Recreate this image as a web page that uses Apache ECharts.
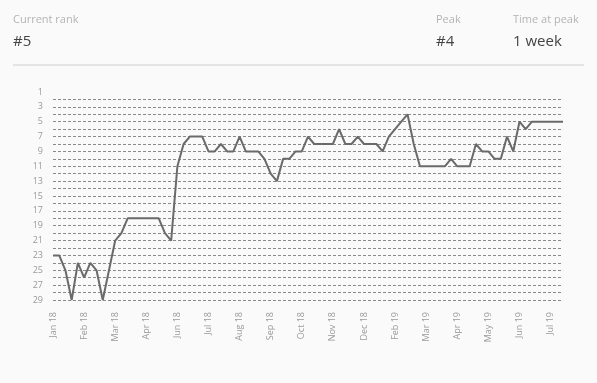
<!DOCTYPE html>
<html>
<head>
<meta charset="utf-8">
<script src="https://cdn.jsdelivr.net/npm/echarts@6/dist/echarts.min.js"></script>
<style>
html,body{margin:0;padding:0;background:#fafafa;}
#chart{width:597px;height:383px;}
</style>
</head>
<body>
<div id="chart"></div>
<script>
var weeks = [
'2018-01-13','2018-01-20','2018-01-27','2018-02-03','2018-02-10','2018-02-17','2018-02-24',
'2018-03-03','2018-03-10','2018-03-17','2018-03-24','2018-03-31','2018-04-07','2018-04-14',
'2018-04-21','2018-04-28','2018-05-05','2018-05-12','2018-05-19','2018-05-26','2018-06-02',
'2018-06-09','2018-06-16','2018-06-23','2018-06-30','2018-07-07','2018-07-14','2018-07-21',
'2018-07-28','2018-08-04','2018-08-11','2018-08-18','2018-08-25','2018-09-01','2018-09-08',
'2018-09-15','2018-09-22','2018-09-29','2018-10-06','2018-10-13','2018-10-20','2018-10-27',
'2018-11-03','2018-11-10','2018-11-17','2018-11-24','2018-12-01','2018-12-08','2018-12-15',
'2018-12-22','2018-12-29','2019-01-05','2019-01-12','2019-01-19','2019-01-26','2019-02-02',
'2019-02-09','2019-02-16','2019-02-23','2019-03-02','2019-03-09','2019-03-16','2019-03-23',
'2019-03-30','2019-04-06','2019-04-13','2019-04-20','2019-04-27','2019-05-04','2019-05-11',
'2019-05-18','2019-05-25','2019-06-01','2019-06-08','2019-06-15','2019-06-22','2019-06-29',
'2019-07-06','2019-07-13','2019-07-20','2019-07-27','2019-08-03','2019-08-10'
];
var ranks = [
23,23,25,29,24,26,24,25,29,25,21,20,18,18,18,18,18,18,20,21,
11,8,7,7,7,9,9,8,9,9,7,9,9,9,10,12,13,10,10,9,
9,7,8,8,8,8,6,8,8,7,8,8,8,9,7,6,5,4,8,11,
11,11,11,11,10,11,11,11,8,9,9,10,10,7,9,5,6,5,5,5,
5,5,5
];
var monthNames = ['Jan','Feb','Mar','Apr','May','Jun','Jul','Aug','Sep','Oct','Nov','Dec'];
var headerLabels = ['Current rank','Peak','Time at peak'];
var headerValues = ['#5','#4','1 week'];

var chart = echarts.init(document.getElementById('chart'));
var font = '"Open Sans", "Noto Sans", sans-serif';
chart.setOption({
  backgroundColor: '#fafafa',
  animation: false,
  grid: {left: 53, right: 34, top: 92, bottom: 83, containLabel: false},
  graphic: [
    {type:'text', left: 13, top: 14, style:{text: headerLabels[0], fill:'#b4b4b4', font:'11px ' + font}},
    {type:'text', left: 13, top: 34, style:{text: headerValues[0], fill:'#444', font:'15px ' + font}},
    {type:'text', left: 436, top: 14, style:{text: headerLabels[1], fill:'#b4b4b4', font:'11px ' + font}},
    {type:'text', left: 436, top: 34, style:{text: headerValues[1], fill:'#444', font:'15px ' + font}},
    {type:'text', left: 513, top: 14, style:{text: headerLabels[2], fill:'#b4b4b4', font:'11px ' + font}},
    {type:'text', left: 513, top: 34, style:{text: headerValues[2], fill:'#444', font:'15px ' + font}},
    {type:'line', shape:{x1: 13, y1: 65, x2: 584, y2: 65}, style:{stroke:'#dcdcdc', lineWidth: 1.5}}
  ],
  xAxis: {
    type: 'category',
    data: weeks,
    boundaryGap: false,
    axisLine: {show: false},
    axisTick: {show: false},
    splitLine: {show: false},
    axisLabel: {
      interval: 4,
      rotate: 90,
      margin: 12,
      color: '#9a9a9a',
      fontSize: 9,
      fontFamily: font,
      formatter: function (v) {
        var d = v.split('-');
        return monthNames[parseInt(d[1], 10) - 1] + ' ' + d[0].slice(2);
      }
    }
  },
  yAxis: {
    type: 'value',
    inverse: true,
    min: 1,
    max: 29,
    interval: 1,
    axisLine: {show: false},
    axisTick: {show: false},
    axisLabel: {
      color: '#9a9a9a',
      fontSize: 9,
      fontFamily: font,
      margin: 10,
      formatter: function (v) { return (v % 2 === 1) ? String(v) : ''; }
    },
    splitLine: {
      show: true,
      showMinLine: false,
      lineStyle: {color: '#8a8a8a', type: [3, 2], width: 1}
    }
  },
  series: [{
    type: 'line',
    data: ranks,
    symbol: 'none',
    lineStyle: {color: '#6a6a6a', width: 2},
    itemStyle: {color: '#6a6a6a'}
  }]
});
</script>
</body>
</html>
